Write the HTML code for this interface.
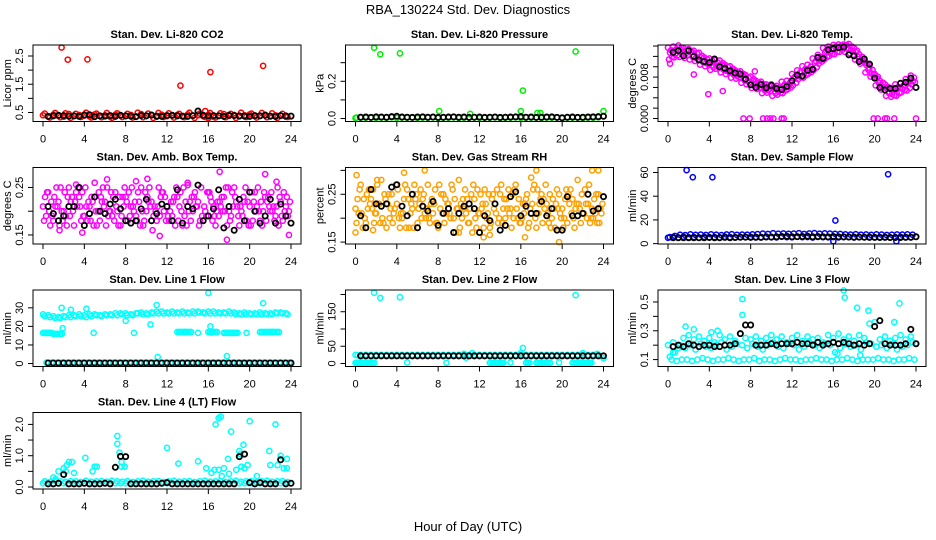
<!DOCTYPE html>
<html><head><meta charset="utf-8"><style>
html,body{margin:0;padding:0;background:#fff;}
svg{display:block;font-family:"Liberation Sans",sans-serif;}
</style></head><body>
<svg id="chart" width="936" height="540" viewBox="0 0 936 540">
<text x="468" y="14" text-anchor="middle" font-size="13">RBA_130224  Std. Dev. Diagnostics</text>
<text x="468" y="531" text-anchor="middle" font-size="13">Hour of Day (UTC)</text>
</svg>
<script>
// ---- data ----
const co2A=[.40,.36,.42,.38,.35,.44,.37,.41,.39,.36,.43,.38,.40,.35,.42,.39,.37,.41,.36,.44,.38,.40,.35,.42,.37,.39,.41,.36,.43,.38,.40,.37,.42,.35,.39,.44,.38,.41,.36,.40,.43,.37,.39,.42,.36,.40,.38,.35];
const co2B=[.46,.32,.48,.33,.47,.31,.45,.34,.49,.32,.46,.33,.48,.31,.47,.34,.45,.32,.49,.33,.46,.31,.48,.34,.47,.32,.45,.33,.49,.31,.46,.34,.48,.32,.47,.33,.45,.31,.49,.34,.46,.32,.48,.33,.47,.31,.45,.34];
const co2Black=[.36,.38,.40,.39,.37,.38,.36,.41,.42,.35,.38,.37,.39,.36,.40,.38,.37,.35,.39,.38,.41,.37,.36,.39,.40,.38,.37,.36,.39,.55,.40,.37,.39,.38,.36,.40,.39,.38,.37,.36,.39,.38,.40,.37,.36,.39,.38,.37];
const co2Out=[[1.8,2.8],[2.4,2.37],[4.3,2.38],[13.3,1.45],[16.2,1.93],[21.3,2.15],[15.7,0.55],[16,0.3]];

const presA=[.003,.005,.004,.006,.003,.005,.004,.006,.003,.005,.004,.006,.003,.005,.004,.006,.003,.005,.004,.006,.003,.005,.004,.006,.003,.005,.004,.006,.003,.005,.004,.006,.003,.005,.004,.006,.003,.005,.004,.006,.003,.005,.004,.006,.003,.005,.004,.006];
const presBlack=[.007,.008,.006,.009,.008,.007,.01,.012,.008,.007,.006,.008,.009,.007,.008,.006,.007,.008,.009,.007,.008,.006,.007,.008,.006,.007,.008,.006,.007,.008,.009,.01,.007,.008,.006,.007,.008,.009,.006,.004,.007,.008,.006,.007,.008,.009,.01,.012];
const presOut=[[1.8,0.38],[2.4,0.345],[4.3,0.35],[8.1,0.04],[11.1,0.025],[16.0,0.04],[16.2,0.15],[17.6,0.03],[17.9,0.03],[21.3,0.36],[24,0.04],[0.1,0.005]];

const tempA=[.0137,.0139,.0141,.0136,.0134,.0131,.0127,.0118,.0116,.0113,.0112,.0104,.0101,.0093,.0091,.0084,.0081,.0073,.0071,.0066,.0066,.0063,.0071,.0073,.0086,.0093,.0101,.0104,.0116,.0123,.0136,.0139,.0142,.0143,.0143,.0144,.0136,.0124,.0111,.0098,.0086,.0073,.0066,.0058,.0066,.0068,.0076,.0083];
const tempB=[.0114,.0118,.0119,.0117,.0114,.0111,.0104,.0101,.0094,.0096,.0089,.0086,.0079,.0077,.0069,.0066,.0059,.0057,.0049,.0050,.0044,.0046,.0049,.0057,.0064,.0076,.0079,.0087,.0094,.0106,.0114,.0121,.0124,.0129,.0129,.0126,.0114,.0106,.0089,.0081,.0064,.0056,.0044,.0042,.0044,.0051,.0054,.0066];
const tempC=[.0127,.0124,.0133,.0125,.0128,.0117,.0118,.0107,.0108,.0101,.0103,.0092,.0093,.0082,.0083,.0072,.0073,.0062,.0063,.0055,.0058,.0052,.0063,.0062,.0078,.0082,.0093,.0092,.0108,.0112,.0128,.0127,.0138,.0135,.0141,.0132,.0128,.0112,.0103,.0087,.0078,.0062,.0058,.0047,.0058,.0057,.0068,.0072];
const tempD=[.0132,.0134,.0136,.0131,.0129,.0126,.0121,.0114,.0111,.0108,.0107,.0100,.0096,.0089,.0086,.0079,.0076,.0069,.0066,.0062,.0061,.0059,.0066,.0069,.0081,.0089,.0096,.0100,.0111,.0119,.0131,.0134,.0139,.0141,.0142,.0139,.0131,.0119,.0106,.0094,.0081,.0069,.0061,.0055,.0061,.0064,.0071,.0079];
const tempE=[.0119,.0122,.0124,.0122,.0119,.0115,.0109,.0105,.0099,.0100,.0094,.0090,.0084,.0080,.0074,.0070,.0064,.0060,.0054,.0053,.0049,.0050,.0054,.0060,.0069,.0080,.0084,.0090,.0099,.0110,.0119,.0125,.0129,.0133,.0134,.0130,.0119,.0110,.0094,.0085,.0069,.0060,.0049,.0045,.0049,.0055,.0059,.0070];
const tempBlack=[.0128,.0131,.0121,.0131,.0120,.0113,.0110,.0108,.0115,.0100,.0097,.0092,.0088,.0086,.0076,.0065,.0060,.0066,.0059,.0064,.0058,.0056,.0062,.0073,.0084,.0082,.0093,.0095,.0118,.0116,.0133,.0135,.0137,.0138,.0123,.0121,.0110,.0115,.0105,.0078,.0060,.0055,.0058,.0058,.0068,.0070,.0078,.0060];
const tempOut=[[7.3,0],[7.9,0],[9.2,0],[9.6,0],[9.9,0],[10.2,0],[11.0,0],[11.2,0],[19.9,0],[20.3,0],[21.0,0],[21.2,0],[21.9,0],[24,0],[0.2,.0106],[3.9,.0047],[5.3,.0053],[8.4,.0091],[2.5,.0085]];

const ambA=[.21,.24,.18,.22,.20,.25,.17,.23,.19,.21,.26,.18,.22,.20,.24,.17,.23,.21,.19,.25,.20,.22,.18,.24,.21,.19,.23,.17,.26,.20,.22,.18,.24,.21,.19,.23,.20,.25,.17,.22,.21,.24,.18,.23,.20,.19,.22,.21];
const ambB=[.18,.20,.23,.17,.24,.19,.22,.21,.25,.18,.20,.23,.17,.24,.21,.19,.22,.25,.18,.20,.23,.16,.21,.24,.19,.22,.18,.25,.20,.23,.17,.21,.24,.19,.22,.20,.18,.23,.21,.25,.17,.20,.22,.18,.24,.21,.19,.23];
const ambC=[.23,.17,.21,.25,.19,.22,.24,.18,.21,.23,.17,.22,.25,.19,.20,.23,.18,.21,.24,.17,.22,.19,.25,.20,.18,.23,.21,.19,.22,.24,.18,.20,.23,.17,.21,.25,.19,.22,.20,.18,.24,.21,.17,.22,.20,.25,.18,.19];
const ambD=[.19,.22,.25,.20,.17,.23,.21,.24,.18,.22,.20,.25,.19,.23,.17,.21,.24,.20,.22,.18,.25,.21,.19,.23,.20,.17,.24,.22,.18,.21,.25,.19,.22,.20,.23,.17,.24,.21,.19,.22,.18,.25,.20,.23,.21,.17,.24,.20];
const ambE=[.24,.19,.21,.18,.23,.20,.25,.19,.22,.17,.24,.21,.20,.18,.23,.25,.19,.22,.17,.24,.21,.20,.23,.18,.22,.25,.20,.17,.23,.21,.19,.24,.18,.22,.20,.25,.21,.19,.23,.17,.22,.20,.24,.21,.18,.23,.20,.22];
const ambBlack=[.21,.195,.18,.19,.21,.21,.25,.17,.195,.23,.20,.195,.215,.225,.205,.18,.175,.18,.205,.225,.18,.195,.215,.21,.18,.245,.175,.21,.205,.255,.18,.19,.205,.245,.165,.21,.16,.225,.18,.24,.20,.175,.19,.225,.175,.215,.19,.175];
const ambOut=[[17.1,.283],[21.5,.278],[17.8,.14],[23.8,.15],[11.3,.148],[9.0,.263],[10.1,.268],[6.2,.267],[14.0,.255],[3.2,.256],[22.6,.262],[3.8,.155],[1.6,.16]];

const rhA=[.22,.27,.19,.24,.21,.28,.18,.25,.23,.20,.26,.22,.19,.24,.27,.21,.18,.25,.23,.20,.28,.22,.19,.24,.21,.26,.18,.23,.25,.20,.22,.27,.19,.24,.21,.18,.25,.23,.20,.26,.22,.19,.24,.28,.21,.23,.20,.25];
const rhB=[.19,.21,.25,.22,.27,.20,.23,.19,.26,.21,.24,.18,.22,.25,.20,.23,.27,.19,.21,.24,.18,.26,.22,.20,.25,.23,.19,.21,.27,.24,.18,.22,.20,.25,.23,.26,.19,.21,.24,.22,.18,.25,.20,.23,.21,.27,.24,.19];
const rhC=[.24,.18,.22,.26,.23,.19,.25,.21,.20,.24,.18,.27,.23,.21,.19,.26,.22,.24,.20,.17,.23,.21,.25,.18,.22,.20,.24,.26,.19,.22,.25,.20,.23,.18,.26,.21,.24,.19,.22,.25,.20,.23,.18,.22,.26,.19,.21,.22];
const rhD=[.21,.24,.26,.19,.23,.25,.20,.22,.18,.27,.21,.24,.26,.20,.23,.19,.25,.21,.27,.22,.20,.24,.17,.26,.23,.21,.25,.19,.22,.26,.20,.24,.21,.19,.27,.23,.22,.25,.18,.21,.24,.26,.22,.19,.23,.20,.25,.21];
const rhE=[.26,.20,.23,.21,.19,.24,.22,.27,.21,.18,.23,.25,.20,.22,.24,.19,.21,.23,.26,.22,.24,.19,.27,.21,.18,.25,.22,.20,.24,.21,.26,.19,.23,.22,.20,.24,.27,.18,.23,.20,.26,.21,.23,.25,.20,.22,.19,.23];
const rhBlack=[.205,.18,.26,.23,.225,.23,.265,.27,.225,.205,.25,.18,.225,.215,.235,.185,.21,.22,.17,.21,.225,.23,.22,.17,.205,.195,.23,.175,.185,.245,.255,.205,.225,.21,.21,.235,.205,.22,.175,.175,.245,.205,.205,.21,.25,.215,.22,.245];
const rhOut=[[0.1,.29],[6.7,.30],[17.5,.30],[22.9,.30],[4.7,.295],[23.5,.30],[17,.285],[2.1,.28],[12.4,.16],[13.0,.165],[16.4,.16],[19.7,.15],[0,.17],[1.7,.175],[10,.17]];

const sfA=[5,5.5,5.2,5.8,5.3,5.6,5.1,5.7,5.4,5.5,5.2,5.8,5.5,5.3,5.6,5.4,5.7,5.2,5.5,5.9,5.6,5.3,6,5.5,5.4,5.8,5.5,5.6,5.2,5.7,5.5,5.4,5.6,5.3,5.8,5.5,5.2,5.6,5.4,5.7,5.3,5.5,5.6,5.2,5.4,5.7,5.5,5.3];
const sfB=[5.5,6.5,7.5,7.2,7.8,7.4,7.6,7.3,7.8,7.5,7.2,7.7,7.9,7.4,7.6,7.5,7.8,8,8.5,8.2,8.8,8.4,8.6,8.3,8.5,8.8,8.2,8.6,8.9,8.4,8.7,8.5,8.3,8.1,7.8,7.6,7.9,7.5,7.7,7.4,7.8,7.6,7.3,7.5,7.7,7.6,7.8,7.5];
const sfBlack=[5,5,5,5,5,5,5,5.2,5,5,5.3,5,5.2,5.4,5.5,5.3,5.5,5.3,5.6,5.5,5.8,6,6.2,5.8,5.9,6,6.3,5.8,6,5.8,5.7,6.0,5.8,5.6,5.6,5.5,5.5,5.4,5.3,5.3,5.2,5.3,5.2,5.2,5.2,5.3,5.4,5.8];
const sfOut=[[1.8,62],[2.4,56],[4.3,56],[16.2,19.5],[21.3,58.5],[16,2],[22.1,2]];

const l1A=[26.5,26,25.5,25,25.5,26,26,26.5,26,26.5,26.5,26,26.5,26.5,27,27,27,26.5,27,27.5,27,27.5,28,28,27.5,28,27.5,28,27.5,28,28,27.5,28,28,27.5,27.5,28,27.5,27,27.5,27,27,27.5,27,27,27.5,27.5,27];
const l1B=[25.5,25,24.5,24.5,25,25,25.5,25.5,25,25.5,26,25.5,26,26,26,26.5,26,26,27,26.5,26.5,27,27,27,27,27,27,27,27,27,27.5,27,27,27,27,27,27,26.5,26.5,26.5,26.5,26.5,26.5,26.5,26.5,27,27,26.5];
const l1Zero=[0.5,0.5,0.5,0.5,0.5,0.5,0.5,0.5,0.5,0.5,0.5,0.5,0.5,0.5,0.5,0.5,0.5,0.5,0.5,0.5,0.5,0.5,0.5,0.5,0.5,0.5,0.5,0.5,0.5,0.5,0.5,0.5,0.5,0.5,0.5,0.5,0.5,0.5,0.5,0.5,0.5,0.5,0.5,0.5,0.5,0.5,0.5,0.5];
const l1Mid=[16.5,16.5,16,16,null,null,null,null,null,null,null,null,null,null,null,null,null,null,null,null,null,null,null,null,null,null,17,17,17,null,null,null,17,17,null,16.5,16.5,16.5,null,null,null,null,17,17,17,17,null,null];
const l1Black=[0.3,0.3,0.3,0.3,0.3,0.3,0.3,0.3,0.3,0.3,0.3,0.3,0.3,0.3,0.3,0.3,0.3,0.3,0.3,0.3,0.3,0.3,0.3,0.3,0.3,0.3,0.3,0.3,0.3,0.3,0.3,0.3,0.3,0.3,0.3,0.3,0.3,0.3,0.3,0.3,0.3,0.3,0.3,0.3,0.3,0.3,0.3,0.3];
const l1Out=[[1.8,30],[2.7,29],[4.2,29.5],[11,31.5],[16,38],[21.3,32.5],[16.2,20],[1.9,19],[10.4,21],[11.1,3.5],[17.8,4],[8,23],[4.9,16.5],[8.8,16.5],[15,16.5],[19.7,16.5],[13.7,17],[16.3,16.7],[22.2,17]];

const l2A=[25,25,25,25,25,25,25,25,25,25,25,25,25,25,25,25,25,25,25,25,25,25,25,25,25,25,25,25,25,25,25,25,25,25,25,25,25,25,25,25,25,25,25,25,25,25,25,25];
const l2Low=[2,2,2,2,null,null,null,null,null,null,null,null,null,null,null,null,null,null,null,null,null,null,null,null,null,null,2,2,2,null,null,null,null,2,null,2,2,2,null,null,null,null,2,2,2,2,null,null];
const l2Black=[22,22,22,22,22,22,22,22,22,22,22,22,22,22,22,22,22,22,22,22,22,22,22,22,22,22,22,22,22,22,22,22,22,22,22,22,22,22,22,22,22,22,22,22,22,22,22,22];
const l2Out=[[1.8,205],[2.4,190],[4.3,192],[21.3,198],[16.2,45],[16,30],[5,3],[8.8,2],[15,3],[19.7,3],[10.5,28],[11.3,30],[22,30],[23.4,28],[24,15],[10.7,17],[0.1,2],[0.2,24]];

const l3A=[.2,.22,.18,.25,.27,.24,.26,.23,.25,.22,.27,.24,.26,.23,.28,.25,.24,.26,.23,.25,.27,.24,.26,.22,.25,.27,.23,.26,.24,.25,.22,.27,.25,.28,.24,.26,.23,.27,.25,.35,.36,.24,.26,.23,.25,.27,.24,.26];
const l3B=[.12,.15,.2,.18,.2,.17,.21,.19,.18,.2,.22,.17,.19,.21,.2,.18,.21,.19,.17,.2,.22,.19,.18,.21,.2,.17,.19,.22,.2,.18,.21,.2,.15,.18,.21,.19,.2,.17,.22,.21,.19,.2,.18,.21,.17,.19,.2,.22];
const l3C=[.1,.09,.1,.1,.09,.1,.11,.1,.09,.1,.1,.11,.1,.09,.1,.1,.11,.09,.1,.1,.09,.1,.11,.1,.1,.09,.1,.1,.11,.1,.1,.09,.1,.1,.11,.1,.09,.1,.1,.1,.11,.1,.1,.09,.1,.1,.11,.1];
const l3Black=[.19,.2,.19,.21,.2,.19,.2,.2,.19,.19,.2,.2,.21,.28,.34,.34,.2,.2,.2,.21,.2,.21,.21,.21,.22,.21,.21,.2,.22,.2,.21,.22,.21,.22,.21,.2,.21,.2,.21,.33,.37,.21,.2,.2,.2,.21,.31,.21];
const l3Out=[[7.2,0.52],[7.2,0.41],[17,0.58],[17.1,0.53],[18.3,0.46],[19.4,0.44],[22.4,0.49],[21.9,0.36],[1.7,0.33],[4.2,0.29],[4.8,0.30],[2.5,0.31],[0.5,0.15],[16.4,0.14],[18.6,0.13]];

const l4A=[.12,.12,.12,.12,.12,.12,.12,.12,.12,.12,.12,.12,.12,.12,.12,.12,.12,.12,.12,.12,.12,.12,.12,.12,.12,.12,.12,.12,.12,.12,.12,.12,.12,.12,.12,.12,.12,.12,.12,.12,.12,.12,.12,.12,.12,.12,.12,.12];
const l4B=[.18,.16,.2,.18,.17,.19,.18,.16,.2,.17,.18,.19,.17,.2,.18,.17,.19,.16,.18,.2,.17,.18,.19,.16,.18,.2,.17,.18,.19,.16,.18,.2,.17,.18,.19,.16,.18,.2,.17,.18,.19,.16,.18,.2,.17,.18,.19,.16];
const l4Black=[.1,.1,.12,.4,.1,.1,.1,.12,.1,.1,.1,.12,.1,.63,.98,.97,.1,.1,.1,.1,.1,.1,.12,.14,.1,.1,.1,.1,.1,.1,.1,.1,.1,.1,.1,.1,.1,.97,1.05,.14,.1,.14,.1,.1,.1,.87,.1,.12];
const l4Out=[[1.5,.5],[2,.6],[2.3,.7],[2.5,.8],[2.8,.8],[3,.45],[4.1,.93],[4.8,.5],[5,.65],[5.2,.65],[7.2,1.63],[7.2,1.38],[7.4,1.1],[7.6,.8],[7.6,.65],[7.9,.65],[12,1.25],[13.1,.75],[15,.82],[15.8,.6],[16.3,.45],[16.7,2.0],[17,2.2],[17.2,2.25],[17,.55],[17.3,.35],[17.5,.6],[18.2,1.77],[18,.42],[17.9,.9],[18.7,.55],[19,1.15],[19.4,1.35],[19.2,.65],[19.5,.6],[19.8,.7],[20,2.1],[20.7,.35],[21.9,1.15],[22,.7],[22.5,2.0],[22.7,.7],[23,1.0],[23.3,.6],[23.6,.9],[23.6,.6],[1,.3],[1.2,.25],[2.2,.5],[16.6,.55],[19.1,1.05]];

const xTicks=[0,4,8,12,16,20,24];

const panels=[
 {name:"co2",title:"Stan. Dev. Li-820 CO2",ylab:"Licor ppm",col:0,row:0,ymin:0.18,ymax:2.89,ticks:[0.5,1,1.5,2,2.5],labs:{"0.5":"0.5","1.5":"1.5","2.5":"2.5"},color:"#ff0000",series:[co2A,co2B],mid:null,out:co2Out,black:co2Black},
 {name:"pressure",title:"Stan. Dev. Li-820 Pressure",ylab:"kPa",col:1,row:0,ymin:-0.016,ymax:0.395,ticks:[0,0.1,0.2,0.3],labs:{"0":"0.0","0.2":"0.2"},color:"#00ee00",series:[presA],mid:null,out:presOut,black:presBlack},
 {name:"temp",title:"Stan. Dev. Li-820 Temp.",ylab:"degrees C",col:2,row:0,ymin:-0.00058,ymax:0.0142,ticks:[0,0.002,0.004,0.006,0.008,0.01,0.012,0.014],labs:{"0":"0.000","0.008":"0.008"},color:"#ff00ff",series:[tempA,tempB,tempC,tempD,tempE],mid:null,out:tempOut,black:tempBlack},
 {name:"amb-box-temp",title:"Stan. Dev. Amb. Box Temp.",ylab:"degrees C",col:0,row:1,ymin:0.131,ymax:0.292,ticks:[0.15,0.2,0.25],labs:{"0.15":"0.15","0.25":"0.25"},color:"#ff00ff",series:[ambA,ambB,ambC,ambD,ambE],mid:null,out:ambOut,black:ambBlack},
 {name:"gas-rh",title:"Stan. Dev. Gas Stream RH",ylab:"percent",col:1,row:1,ymin:0.146,ymax:0.306,ticks:[0.15,0.2,0.25,0.3],labs:{"0.15":"0.15","0.25":"0.25"},color:"#ffa000",series:[rhA,rhB,rhC,rhD,rhE],mid:null,out:rhOut,black:rhBlack},
 {name:"sample-flow",title:"Stan. Dev. Sample Flow",ylab:"ml/min",col:2,row:1,ymin:-0.3,ymax:64.2,ticks:[0,20,40,60],labs:{"0":"0","20":"20","40":"40","60":"60"},color:"#0000ff",series:[sfA,sfB],mid:null,out:sfOut,black:sfBlack},
 {name:"line1-flow",title:"Stan. Dev. Line 1 Flow",ylab:"ml/min",col:0,row:2,ymin:-1.6,ymax:39.6,ticks:[0,10,20,30],labs:{"0":"0","10":"10","20":"20","30":"30"},color:"#00ffff",series:[l1A,l1B,l1Zero],mid:l1Mid,out:l1Out,black:l1Black},
 {name:"line2-flow",title:"Stan. Dev. Line 2 Flow",ylab:"ml/min",col:1,row:2,ymin:-8.7,ymax:213,ticks:[0,50,100,150,200],labs:{"0":"0","50":"50","150":"150"},color:"#00ffff",series:[l2A],mid:l2Low,out:l2Out,black:l2Black},
 {name:"line3-flow",title:"Stan. Dev. Line 3 Flow",ylab:"ml/min",col:2,row:2,ymin:0.052,ymax:0.583,ticks:[0.1,0.2,0.3,0.4,0.5],labs:{"0.1":"0.1","0.3":"0.3","0.5":"0.5"},color:"#00ffff",series:[l3A,l3B,l3C],mid:null,out:l3Out,black:l3Black},
 {name:"line4-flow",title:"Stan. Dev. Line 4 (LT) Flow",ylab:"ml/min",col:0,row:3,ymin:-0.063,ymax:2.38,ticks:[0,0.5,1,1.5,2],labs:{"0":"0.0","1":"1.0","2":"2.0"},color:"#00ffff",series:[l4A,l4B],mid:null,out:l4Out,black:l4Black}
];

const NS="http://www.w3.org/2000/svg";
const svg=document.getElementById("chart");
const colLeft=[33,345.5,658], rowTop=[45,167.5,290,412.5], W=268, H=76.5;
function mk(tag,attrs,parent){const e=document.createElementNS(NS,tag);for(const k in attrs)e.setAttribute(k,attrs[k]);parent.appendChild(e);return e;}

panels.forEach(p=>{
  const L=colLeft[p.col], T=rowTop[p.row], B=T+H, R=L+W;
  const g=mk("g",{},svg);
  
  
  const xs=v=>L+10+v/24*248;
  const ys=v=>B-(v-p.ymin)/(p.ymax-p.ymin)*H;
  const t=mk("text",{x:(L+R)/2,y:T-7,"text-anchor":"middle","font-size":"11","font-weight":"bold"},g);
  t.textContent=p.title;
  
  
  const yt=mk("text",{transform:`translate(${L-22},${(T+B)/2}) rotate(-90)`,"text-anchor":"middle","font-size":"11"},g);
  yt.textContent=p.ylab;
  
  
  const pts=mk("g",{fill:"none",stroke:p.color,"stroke-width":"1.5"},g);
  
  
  const step=p.series.length>3?0.1:0.17;
  p.series.forEach((arr,si)=>{
    arr.forEach((v,i)=>{
      if(v===null)return;
      const c=mk("circle",{cx:xs(i*0.5+si*step),cy:ys(v),r:2.6},pts);
      
      
    });
  });
  if(p.mid){p.mid.forEach((v,i)=>{
    if(v===null)return;
    [0,0.17,0.33].forEach(o=>{
      const c=mk("circle",{cx:xs(i*0.5+o),cy:ys(v),r:2.6},pts);
      
      
    });
  });}
  p.out.forEach(d=>{
    const c=mk("circle",{cx:xs(d[0]),cy:ys(d[1]),r:2.6},pts);
    
    
  });
  const bk=mk("g",{fill:"none",stroke:"#000","stroke-width":"1.8"},g);
  
  
  p.black.forEach((v,i)=>{
    const c=mk("circle",{cx:xs(0.5+i*0.5),cy:ys(v),r:2.6},bk);
    
    
  });
  const box=mk("rect",{x:L,y:T,width:W,height:H,fill:"none",stroke:"#000","stroke-width":"1"},g);
  
  
  xTicks.forEach(v=>{
    const x=xs(v);
    mk("line",{x1:x,x2:x,y1:B,y2:B+5,stroke:"#000"},g);
    const lb=mk("text",{x:x,y:B+21,"text-anchor":"middle","font-size":"11"},g);
    lb.textContent=v;
    
    
  });
  p.ticks.forEach(v=>{
    const y=ys(v);
    mk("line",{x1:L,x2:L-5,y1:y,y2:y,stroke:"#000"},g);
    const key=String(v);
    if(p.labs[key]!==undefined){
      const lb=mk("text",{transform:`translate(${L-10},${y}) rotate(-90)`,"text-anchor":"middle","font-size":"11"},g);
      lb.textContent=p.labs[key];
      
      
    }
  });
});
</script>
</body></html>
